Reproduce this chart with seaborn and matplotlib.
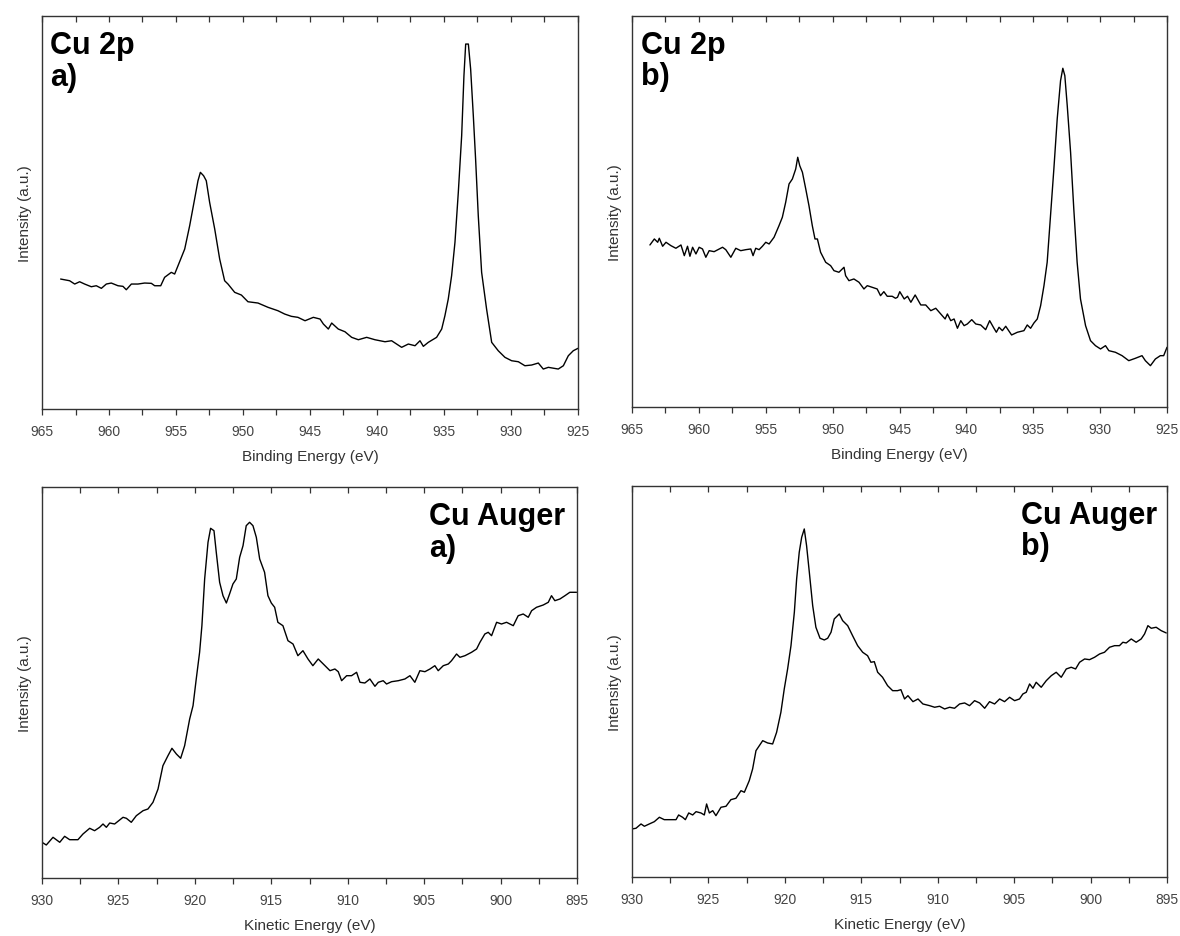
import numpy as np
import pandas as pd
import matplotlib
matplotlib.use("Agg")
import matplotlib.pyplot as plt
from matplotlib.ticker import MultipleLocator
import seaborn as sns

# Cu 2p, muestra a)  (energía de enlace en eV, intensidad en u.a.)
be_2p_a = [963.61, 962.94, 962.56, 962.19, 961.82, 961.32, 960.95, 960.57, 960.20, 959.83,
           959.33, 958.96, 958.71, 958.33, 957.84, 957.34, 956.84, 956.59, 956.14, 955.85,
           955.35, 955.10, 954.85, 954.35, 953.98, 953.61, 953.36, 953.18, 952.94, 952.74,
           952.49, 952.11, 951.74, 951.37, 951.12, 950.62, 950.12, 949.63, 948.88, 948.13,
           947.39, 946.89, 946.39, 945.90, 945.37, 944.75, 944.25, 944.00, 943.63, 943.38,
           942.89, 942.39, 941.89, 941.39, 940.77, 940.15, 939.40, 938.91, 938.16, 937.66,
           937.16, 936.79, 936.54, 936.17, 935.55, 935.17, 934.93, 934.68, 934.43, 934.18,
           933.93, 933.68, 933.51, 933.38, 933.18, 933.01, 932.81, 932.64, 932.44, 932.19,
           931.82, 931.44, 930.95, 930.45, 929.95, 929.45, 928.96, 928.46, 927.96, 927.59,
           927.21, 926.47, 926.09, 925.72, 925.35, 925.00]
int_2p_a = [130.0, 128.3, 125.0, 127.3, 125.0, 122.3, 123.3, 120.7, 125.0, 126.0,
            123.3, 122.7, 119.3, 125.0, 125.0, 126.0, 125.7, 123.3, 123.3, 131.7,
            136.7, 135.0, 143.3, 160.0, 183.3, 210.0, 228.3, 236.7, 233.3, 228.3,
            206.7, 180.0, 150.0, 128.3, 125.0, 116.7, 114.0, 107.3, 106.0, 101.7,
            98.3, 95.0, 92.7, 91.7, 88.3, 91.7, 90.0, 85.0, 80.0, 86.0,
            80.0, 77.3, 71.7, 69.3, 71.7, 69.3, 67.3, 68.3, 61.7, 65.0,
            63.3, 68.3, 62.7, 66.7, 71.7, 80.0, 93.3, 110.0, 133.3, 166.7,
            216.7, 273.3, 333.3, 365.0, 365.0, 340.0, 293.3, 250.0, 193.3, 136.7,
            100.0, 66.7, 58.3, 51.7, 48.3, 47.3, 43.3, 44.0, 46.0, 40.0,
            41.7, 40.0, 43.3, 53.3, 58.3, 60.7]

# Cu 2p, muestra b)
be_2p_b = [963.66, 963.33, 963.08, 962.96, 962.71, 962.46, 962.09, 961.72, 961.34, 961.09,
           960.85, 960.67, 960.47, 960.22, 959.98, 959.73, 959.48, 959.23, 958.86, 958.48,
           958.23, 957.99, 957.61, 957.24, 956.87, 956.49, 956.12, 955.95, 955.75, 955.50,
           955.25, 955.00, 954.75, 954.38, 954.01, 953.76, 953.51, 953.26, 953.01, 952.76,
           952.61, 952.46, 952.26, 952.01, 951.77, 951.52, 951.32, 951.14, 950.90, 950.52,
           950.15, 949.90, 949.53, 949.15, 949.03, 948.78, 948.41, 948.03, 947.66, 947.41,
           947.04, 946.67, 946.42, 946.17, 945.92, 945.55, 945.30, 945.15, 944.98, 944.65,
           944.40, 944.15, 943.83, 943.41, 943.04, 942.66, 942.29, 941.92, 941.59, 941.42,
           941.17, 940.92, 940.67, 940.42, 940.17, 939.93, 939.60, 939.30, 938.93, 938.56,
           938.26, 937.94, 937.76, 937.56, 937.31, 937.06, 936.62, 936.19, 935.70, 935.45,
           935.20, 934.95, 934.70, 934.45, 934.20, 933.96, 933.71, 933.46, 933.21, 932.96,
           932.79, 932.64, 932.46, 932.21, 931.97, 931.72, 931.47, 931.09, 930.72, 930.35,
           929.97, 929.60, 929.35, 928.86, 928.36, 927.86, 927.36, 926.87, 926.62, 926.24,
           925.87, 925.50, 925.25, 925.00]
int_2p_b = [162.0, 168.0, 164.7, 168.7, 160.7, 164.7, 161.3, 158.7, 162.0, 151.3,
            160.7, 150.7, 159.7, 153.0, 159.7, 158.0, 149.7, 156.3, 155.3, 158.0,
            159.7, 157.3, 149.7, 158.7, 156.3, 157.3, 158.0, 151.3, 158.7, 157.3,
            160.7, 164.7, 163.0, 169.7, 181.3, 189.7, 204.7, 223.0, 228.0, 238.0,
            249.7, 241.3, 234.7, 218.0, 201.3, 181.3, 168.0, 168.0, 154.7, 144.7,
            141.3, 136.3, 134.7, 139.7, 131.3, 126.3, 128.0, 124.7, 118.0, 121.3,
            119.7, 118.0, 111.3, 115.3, 110.7, 110.7, 108.7, 109.7, 115.3, 108.0,
            110.7, 104.7, 112.0, 102.0, 102.0, 96.3, 98.7, 93.0, 88.0, 93.0,
            86.3, 88.0, 78.7, 86.3, 81.3, 83.0, 87.3, 83.0, 82.0, 77.3,
            86.3, 78.7, 74.7, 79.7, 76.3, 80.7, 72.0, 74.7, 76.3, 82.0,
            78.7, 84.0, 88.0, 101.3, 121.3, 144.7, 191.3, 238.0, 288.0, 326.3,
            338.7, 331.3, 301.3, 254.7, 198.0, 144.7, 108.0, 81.3, 66.3, 61.3,
            58.0, 61.3, 56.3, 54.7, 51.3, 46.3, 48.7, 51.3, 46.3, 41.3,
            48.0, 51.3, 51.3, 59.7]

# Cu Auger, muestra a)  (energía cinética en eV)
ke_aug_a = [930.00, 929.72, 929.28, 928.84, 928.52, 928.19, 927.65, 927.32, 926.88, 926.56,
            926.23, 926.01, 925.79, 925.57, 925.25, 924.70, 924.48, 924.16, 923.83, 923.39,
            923.07, 922.74, 922.41, 922.09, 921.76, 921.50, 921.21, 920.93, 920.67, 920.34,
            920.12, 919.91, 919.69, 919.54, 919.36, 919.14, 918.97, 918.75, 918.60, 918.38,
            918.16, 917.94, 917.73, 917.51, 917.29, 917.07, 916.85, 916.64, 916.42, 916.20,
            915.98, 915.76, 915.44, 915.22, 915.00, 914.78, 914.57, 914.24, 913.91, 913.58,
            913.26, 912.93, 912.60, 912.28, 911.93, 911.60, 911.16, 910.84, 910.62, 910.40,
            910.07, 909.75, 909.42, 909.20, 908.88, 908.55, 908.22, 908.00, 907.68, 907.46,
            907.13, 906.69, 906.26, 905.93, 905.61, 905.28, 904.95, 904.62, 904.30, 904.08,
            903.75, 903.42, 903.21, 902.88, 902.66, 902.33, 901.90, 901.57, 901.35, 901.03,
            900.81, 900.59, 900.26, 899.94, 899.61, 899.17, 898.85, 898.52, 898.19, 897.97,
            897.65, 897.21, 896.88, 896.67, 896.45, 896.12, 895.79, 895.47, 895.03]
int_aug_a = [35.7, 33.0, 40.7, 35.7, 41.7, 38.3, 38.3, 44.0, 49.7, 47.3,
             50.7, 54.0, 50.7, 55.0, 54.0, 60.7, 59.7, 55.7, 62.3, 67.3,
             69.0, 75.7, 89.0, 112.3, 122.3, 129.7, 124.0, 119.7, 132.3, 159.0,
             172.3, 199.0, 225.7, 252.3, 299.0, 335.7, 349.7, 347.3, 325.7, 295.7,
             282.3, 275.0, 284.0, 294.0, 299.0, 320.7, 332.3, 352.3, 355.7, 352.3,
             340.7, 319.0, 305.7, 282.3, 275.0, 270.7, 255.7, 252.3, 237.3, 234.0,
             222.3, 227.3, 219.0, 212.3, 219.0, 214.0, 207.3, 209.0, 206.3, 197.3,
             202.3, 202.3, 205.7, 195.7, 195.0, 199.0, 191.7, 195.7, 197.3, 194.0,
             196.3, 197.3, 199.0, 202.3, 195.7, 207.3, 206.3, 209.0, 212.3, 207.3,
             212.3, 214.0, 217.3, 224.0, 220.7, 222.3, 225.7, 229.0, 235.7, 244.0,
             245.7, 242.3, 255.7, 254.0, 255.7, 252.3, 262.3, 264.0, 260.7, 267.3,
             270.7, 273.0, 275.7, 282.3, 277.3, 279.0, 282.3, 285.7, 285.7]

# Cu Auger, muestra b)
ke_aug_b = [930.00, 929.74, 929.41, 929.19, 928.87, 928.54, 928.21, 927.89, 927.56, 927.12,
            926.95, 926.69, 926.51, 926.29, 926.03, 925.81, 925.49, 925.27, 925.12, 924.94,
            924.72, 924.51, 924.18, 923.85, 923.53, 923.20, 922.87, 922.65, 922.33, 922.11,
            921.89, 921.67, 921.45, 921.13, 920.80, 920.54, 920.26, 920.04, 919.82, 919.60,
            919.38, 919.23, 919.06, 918.90, 918.73, 918.58, 918.40, 918.18, 917.97, 917.70,
            917.42, 917.20, 916.98, 916.77, 916.44, 916.22, 915.89, 915.57, 915.24, 914.91,
            914.59, 914.37, 914.15, 913.93, 913.61, 913.28, 912.95, 912.63, 912.41, 912.17,
            911.95, 911.62, 911.29, 910.97, 910.53, 910.20, 909.88, 909.55, 909.22, 908.90,
            908.57, 908.24, 907.92, 907.59, 907.26, 906.93, 906.61, 906.28, 905.95, 905.63,
            905.30, 904.97, 904.65, 904.43, 904.21, 903.99, 903.77, 903.56, 903.23, 902.90,
            902.57, 902.25, 901.92, 901.59, 901.27, 900.98, 900.72, 900.39, 900.07, 899.74,
            899.41, 899.09, 898.76, 898.43, 898.11, 897.89, 897.67, 897.34, 897.02, 896.69,
            896.47, 896.25, 896.03, 895.71, 895.38, 895.05]
int_aug_b = [48.0, 48.7, 53.0, 50.7, 53.0, 55.3, 59.7, 57.3, 57.3, 57.3,
             62.0, 59.7, 57.3, 64.0, 62.0, 65.3, 64.0, 62.0, 73.0, 64.0,
             66.3, 61.3, 69.7, 70.7, 77.3, 78.7, 86.3, 84.7, 96.3, 108.0,
             126.3, 131.3, 136.3, 134.0, 133.0, 144.7, 164.7, 188.0, 208.0, 231.3,
             264.7, 298.0, 324.7, 339.7, 348.0, 331.3, 304.7, 271.3, 249.7, 238.7,
             237.0, 238.7, 244.7, 258.0, 263.0, 256.3, 251.3, 241.3, 231.3, 224.7,
             221.3, 214.7, 215.3, 204.7, 199.7, 191.3, 186.3, 186.3, 187.3, 178.0,
             181.3, 175.3, 178.0, 173.0, 171.3, 169.7, 170.7, 168.0, 169.7, 168.7,
             173.0, 174.0, 171.3, 176.3, 174.0, 168.7, 175.3, 173.0, 178.0, 175.3,
             179.7, 176.3, 178.0, 183.0, 184.7, 193.0, 188.7, 194.7, 189.7, 196.3,
             201.3, 204.7, 199.7, 208.0, 209.7, 208.0, 214.7, 218.0, 217.3, 219.7,
             223.0, 224.7, 229.7, 231.3, 231.3, 234.7, 234.0, 238.0, 234.7, 238.0,
             243.0, 251.3, 248.7, 249.7, 246.3, 244.0]

sns.set_theme(style="white")
plt.rcParams['font.family'] = ['Liberation Sans', 'DejaVu Sans']

fig = plt.figure(figsize=(11.8, 9.37), dpi=100)

# posiciones de los ejes en fracción de figura
paneles = [
    dict(pos=[0.0356, 0.5624, 0.4542, 0.4194], x=be_2p_a, y=int_2p_a, xlim=(965, 925), ytop=393,
         xlabel="Binding Energy (eV)", tag="Cu 2p\na)", tx=0.015),
    dict(pos=[0.5356, 0.5646, 0.4534, 0.4173], x=be_2p_b, y=int_2p_b, xlim=(965, 925), ytop=391,
         xlabel="Binding Energy (eV)", tag="Cu 2p\nb)", tx=0.017),
    dict(pos=[0.0356, 0.0619, 0.4534, 0.4173], x=ke_aug_a, y=int_aug_a, xlim=(930, 895), ytop=391,
         xlabel="Kinetic Energy (eV)", tag="Cu Auger\na)", tx=0.723),
    dict(pos=[0.5356, 0.0630, 0.4534, 0.4173], x=ke_aug_b, y=int_aug_b, xlim=(930, 895), ytop=391,
         xlabel="Kinetic Energy (eV)", tag="Cu Auger\nb)", tx=0.727),
]

for p in paneles:
    ax = fig.add_axes(p["pos"])
    df = pd.DataFrame({"E": p["x"], "I": p["y"]})
    sns.lineplot(data=df, x="E", y="I", ax=ax, color="black", linewidth=1.0,
                 sort=False, estimator=None)
    ax.set_xlim(*p["xlim"])
    ax.set_ylim(0, p["ytop"])
    ax.set_yticks([])
    ax.xaxis.set_major_locator(MultipleLocator(5))
    ax.xaxis.set_minor_locator(MultipleLocator(2.5))
    ax.tick_params(axis="x", which="both", direction="out", length=4, width=0.9,
                   color="#333333", labelsize=10, labelcolor="#444444", pad=7, bottom=True)
    ax.set_xlabel(p["xlabel"], fontsize=11, color="#333333", labelpad=8)
    ax.set_ylabel("Intensity (a.u.)", fontsize=11, color="#333333", labelpad=7)
    for s in ax.spines.values():
        s.set_color("#333333")
        s.set_linewidth(1.0)

    # marcas superiores hacia dentro
    top = ax.secondary_xaxis("top")
    top.xaxis.set_major_locator(MultipleLocator(2.5))
    top.tick_params(axis="x", which="both", direction="in", length=4, width=0.9,
                    color="#333333", labeltop=False)
    top.spines["top"].set_visible(False)

    ax.text(p["tx"], 0.965, p["tag"], transform=ax.transAxes, fontsize=22,
            fontweight="bold", color="black", ha="left", va="top", linespacing=1.08)

fig.savefig("out.png", dpi=100)
